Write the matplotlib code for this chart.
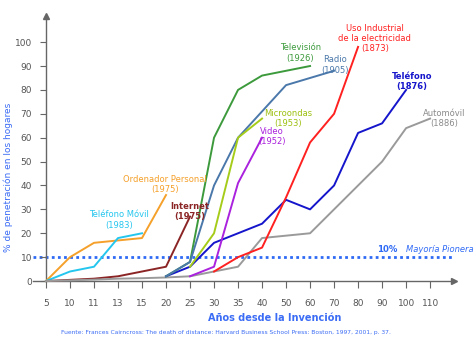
import matplotlib
matplotlib.use("Agg")
import matplotlib.pyplot as plt
import numpy as np

x_labels = ["5", "10", "11", "13", "15", "20", "25", "30", "35", "40", "50",
            "60", "70", "80", "90", "100", "110"]

# series: values aligned to x_labels, starting at a given index
ordenador_start, ordenador = 0, [0, 10, 16, 17, 18, 36]
movil_start, movil = 0, [0, 4, 6, 18, 20]
internet_start, internet = 0, [0, 0.5, 1, 2, 4, 6, 27]
auto_start, automovil = 0, [0, 0.3, 0.6, 1, 1.2, 1.5, 2, 4, 6, 18, 19, 20, 30, 40, 50, 64, 68]
telefono_start, telefono = 5, [2, 6, 16, 20, 24, 34, 30, 40, 62, 66, 80]
elec_start, electricidad = 7, [4, 10, 14, 35, 58, 70, 98]
tv_start, television = 5, [2, 8, 60, 80, 86, 88, 90]
radio_start, radio = 5, [2, 8, 40, 60, 71, 82, 85, 88]
micro_start, microondas = 6, [6, 20, 60, 68]
video_start, video = 6, [2, 6, 41, 60]

series = [
    (ordenador_start, ordenador, "#f5a02a"),
    (movil_start, movil, "#25c6ee"),
    (internet_start, internet, "#8b2525"),
    (auto_start, automovil, "#9a9a9a"),
    (telefono_start, telefono, "#1515cc"),
    (elec_start, electricidad, "#ff2020"),
    (tv_start, television, "#3c9a3c"),
    (radio_start, radio, "#4a78aa"),
    (micro_start, microondas, "#a6cc1a"),
    (video_start, video, "#aa22dd"),
]

fig = plt.figure(figsize=(4.75, 3.37), dpi=100)
ax = fig.add_axes([0.069, 0.166, 0.887, 0.787])
ax.set_xlim(-0.55, 17.0)
ax.set_ylim(0, 111)

axis_col = "#666666"
for s in ["top", "right"]:
    ax.spines[s].set_visible(False)
ax.spines["left"].set_position(("data", 0))
ax.spines["left"].set_color(axis_col)
ax.spines["bottom"].set_color(axis_col)
ax.spines["left"].set_linewidth(1.0)
ax.spines["bottom"].set_linewidth(1.0)

# arrow heads
ax.plot(0, 1, marker="^", color=axis_col, markersize=4, transform=ax.get_xaxis_transform(), clip_on=False)
ax.plot(1, 0, marker=">", color=axis_col, markersize=4, transform=ax.get_yaxis_transform(), clip_on=False)

# 10% dotted line
ax.axhline(10, xmin=0, xmax=1.0, color="#2f6af5", linestyle=(0, (1, 1.2)), linewidth=2.0, zorder=1)

for start, vals, col in series:
    xs = np.arange(start, start + len(vals))
    ax.plot(xs, vals, color=col, linewidth=1.4, zorder=3, clip_on=False)

ax.set_xticks(np.arange(len(x_labels)))
ax.set_xticklabels(x_labels)
ax.set_yticks(np.arange(0, 101, 10))
ax.tick_params(axis="x", direction="out", length=5, colors=axis_col, labelcolor="#555555", labelsize=6.5, pad=8)
ax.tick_params(axis="y", direction="out", length=4, colors=axis_col, labelcolor="#555555", labelsize=6.5, pad=6)

txt = dict(fontsize=6, ha="center", va="center", linespacing=1.2)
ax.text(13.7, 101.5, "Uso Industrial\nde la electricidad\n(1873)", color="#ff2020", **txt)
ax.text(10.6, 95.5, "Televisión\n(1926)", color="#3c9a3c", **txt)
ax.text(12.05, 90.5, "Radio\n(1905)", color="#4a78aa", **txt)
ax.text(15.25, 83.5, "Teléfono\n(1876)", color="#1515cc", fontweight="bold", **txt)
ax.text(16.6, 68.0, "Automóvil\n(1886)", color="#8a8a8a", **txt)
ax.text(10.1, 68.0, "Microondas\n(1953)", color="#9cc010", **txt)
ax.text(9.4, 60.5, "Video\n(1952)", color="#aa22dd", **txt)
ax.text(4.95, 40.5, "Ordenador Personal\n(1975)", color="#f5a02a", **txt)
ax.text(6.0, 29.0, "Internet\n(1975)", color="#8b2525", fontweight="bold", **txt)
ax.text(3.05, 25.5, "Teléfono Móvil\n(1983)", color="#25c6ee", **txt)
ax.text(14.2, 13.0, "10%", color="#2f6af5", fontsize=6.2, fontweight="bold", ha="center", va="center")
ax.text(16.4, 13.0, "Mayoría Pionera", color="#2f6af5", fontsize=6.0, style="italic", ha="center", va="center")

fig.text(0.017, 0.475, "% de penetración en los hogares", rotation=90, color="#3b6cf5",
         fontsize=6.5, ha="center", va="center")
fig.text(0.578, 0.056, "Años desde la Invención", color="#3b6cf5", fontsize=7, fontweight="bold",
         ha="center", va="center")
fig.text(0.128, 0.012, "Fuente: Frances Cairncross: The death of distance: Harvard Business School Press: Boston, 1997, 2001, p. 37.",
         color="#3b6cf5", fontsize=4.3, ha="left", va="center")

fig.savefig("out.png", dpi=100)
